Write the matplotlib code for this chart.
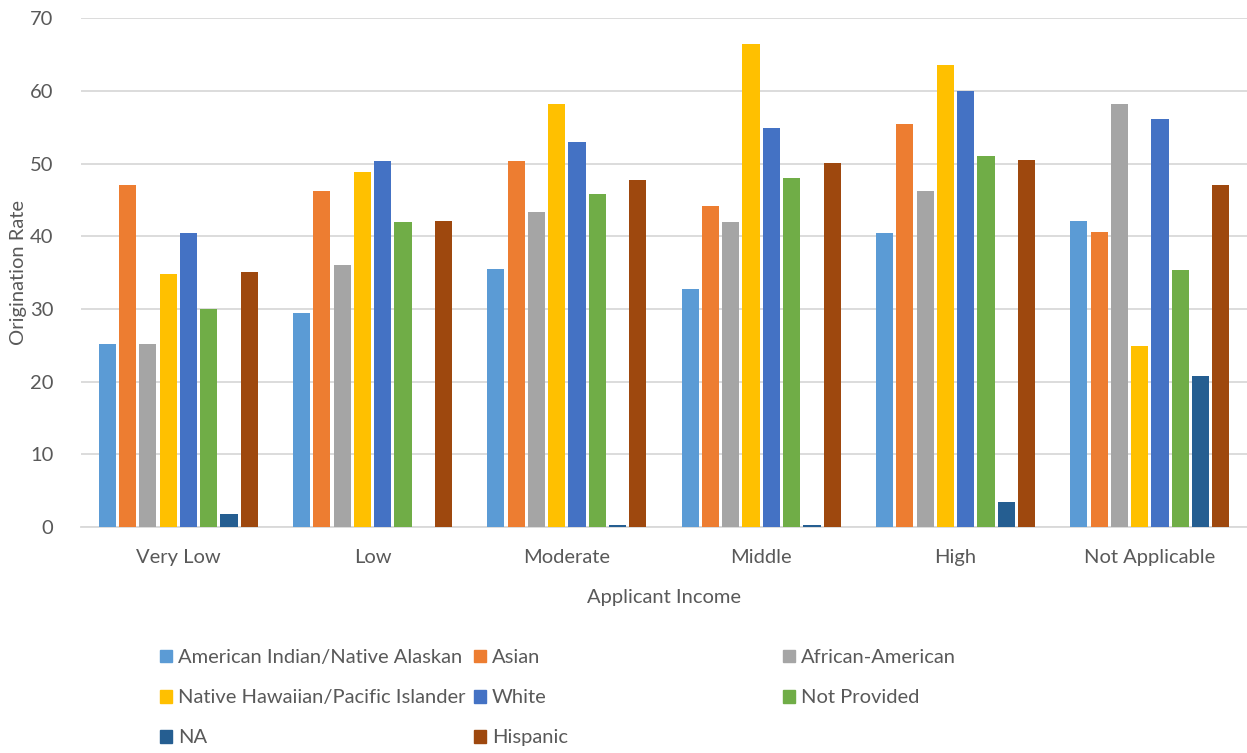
import numpy as np
import matplotlib
matplotlib.use("Agg")
import matplotlib.pyplot as plt
from matplotlib.patches import Patch

plt.rcParams['font.family'] = ['Lato', 'DejaVu Sans']

# Datos
categorias = ["Very Low", "Low", "Moderate", "Middle", "High", "Not Applicable"]
series = ["American Indian/Native Alaskan", "Asian", "African-American",
          "Native Hawaiian/Pacific Islander", "White", "Not Provided",
          "NA", "Hispanic"]
american_indian = [25.2, 29.4, 35.5, 32.7, 40.4, 42.1]
asian = [47.0, 46.2, 50.3, 44.2, 55.4, 40.6]
african_american = [25.2, 36.1, 43.4, 41.9, 46.2, 58.2]
native_hawaiian = [34.8, 48.8, 58.2, 66.5, 63.5, 24.9]
white = [40.4, 50.3, 52.9, 54.9, 60.0, 56.1]
not_provided = [30.0, 41.9, 45.8, 48.0, 51.1, 35.3]
na = [1.8, 0.0, 0.25, 0.25, 3.5, 20.8]
hispanic = [35.1, 42.1, 47.8, 50.1, 50.5, 47.0]

valores = [american_indian, asian, african_american, native_hawaiian,
           white, not_provided, na, hispanic]
colores = ["#5B9BD5", "#ED7D31", "#A5A5A5", "#FFC000",
           "#4472C4", "#70AD47", "#255E91", "#9E480E"]

gris = "#595959"
fs = 14.5

fig = plt.figure(figsize=(12.47, 7.53), dpi=100)
ax = fig.add_axes([0.065, 0.300, 0.935, 0.676])

x = np.arange(len(categorias))
paso = 0.1045
ancho = 0.088
for i, (vals, col) in enumerate(zip(valores, colores)):
    ax.bar(x + (i - 3.5) * paso, vals, width=ancho, color=col, zorder=3)

ax.set_xlim(-0.5, len(categorias) - 0.5)
ax.set_ylim(0, 70)
ax.set_yticks(range(0, 71, 10))
ax.set_xticks(x)
ax.set_xticklabels(categorias)
ax.grid(axis="y", color="#D9D9D9", linewidth=1.3, zorder=0)
for s in ["top", "right", "left"]:
    ax.spines[s].set_visible(False)
ax.spines["bottom"].set_color("#D9D9D9")
ax.spines["bottom"].set_linewidth(1.3)
ax.tick_params(length=0, labelsize=fs, colors=gris)
ax.tick_params(axis="y", pad=20)
ax.tick_params(axis="x", pad=16)
ax.set_ylabel("Origination Rate", fontsize=fs, color=gris)
ax.yaxis.set_label_coords(-0.046, 0.5)
ax.set_xlabel("Applicant Income", fontsize=fs, color=gris, labelpad=16)

# Leyenda en 3 columnas (orden por filas como Excel)
columnas = [[0, 3, 6], [1, 4, 7], [2, 5]]
x_cols = [0.128, 0.380, 0.628]
for xc, idx in zip(x_cols, columnas):
    handles = [Patch(color=colores[k]) for k in idx]
    labels = [series[k] for k in idx]
    fig.legend(handles, labels, loc="upper left", bbox_to_anchor=(xc, 0.138),
               frameon=False, fontsize=fs, labelcolor=gris,
               handlelength=0.6, handleheight=0.6, handletextpad=0.3,
               labelspacing=1.15, borderaxespad=0, borderpad=0)

fig.savefig("out.png", dpi=100)
